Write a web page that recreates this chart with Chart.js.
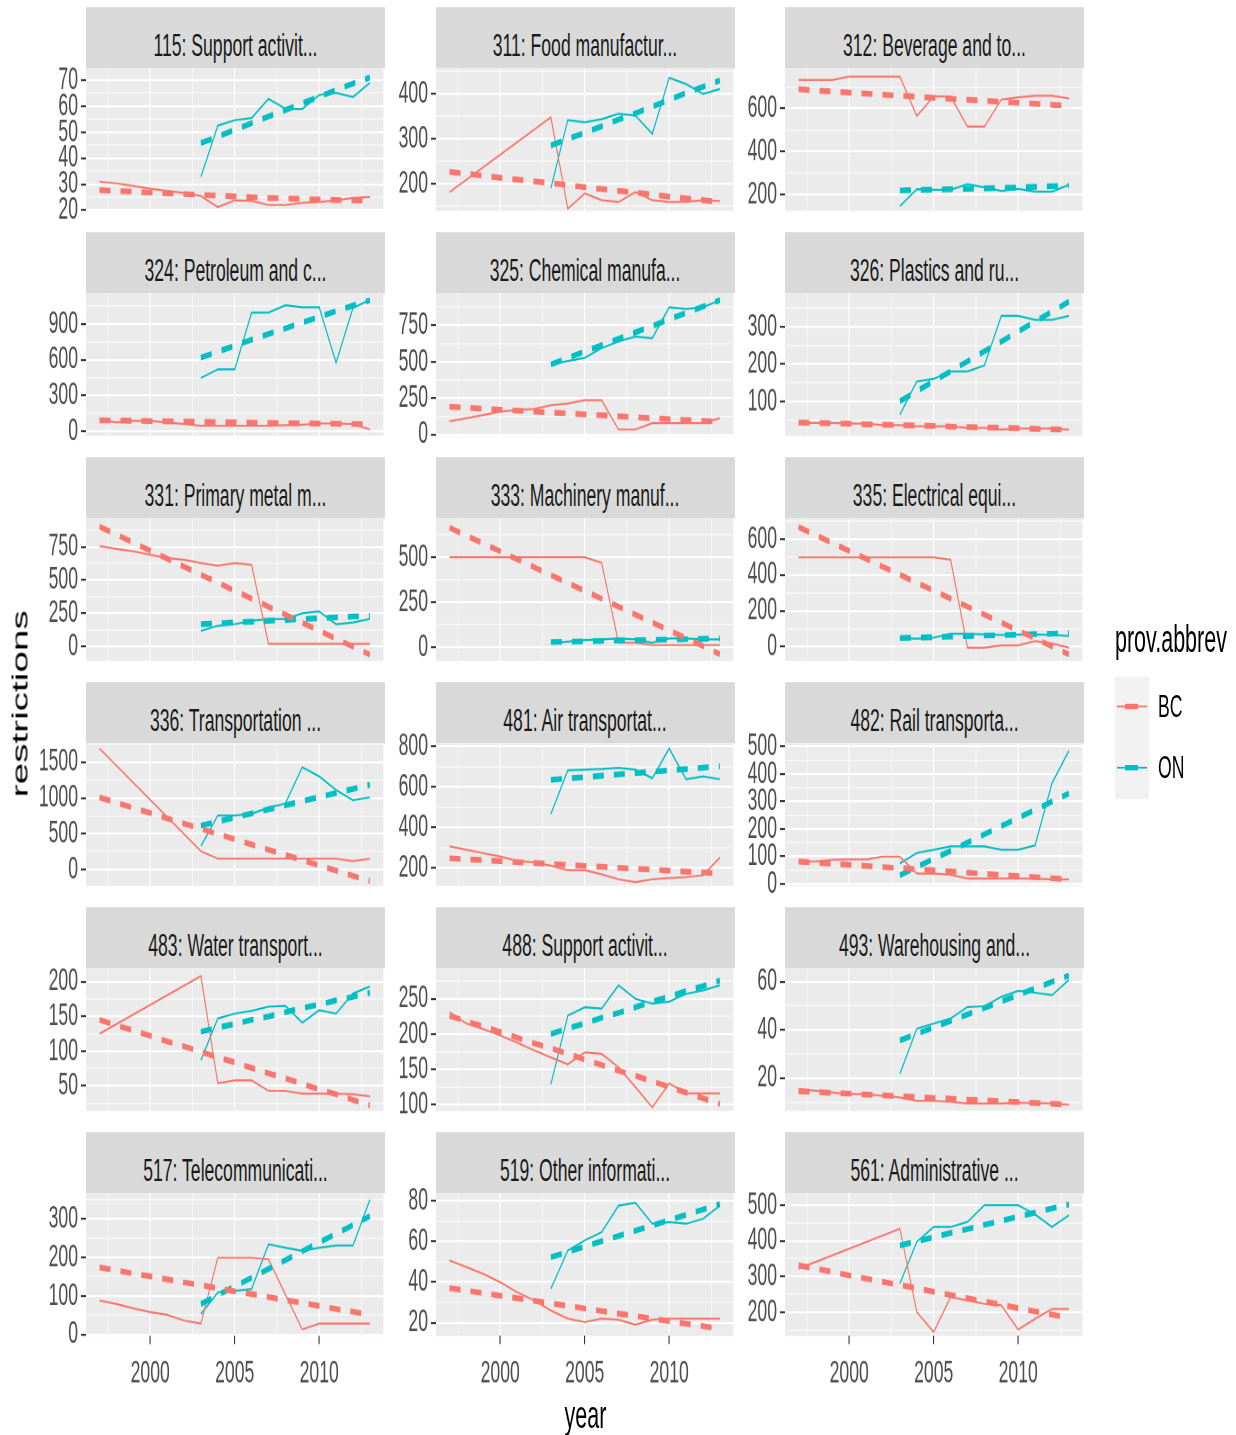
<!DOCTYPE html>
<html>
<head>
<meta charset="utf-8">
<script src="https://cdn.jsdelivr.net/npm/chart.js@4.4.1/dist/chart.umd.min.js"></script>
<style>
  html, body { margin: 0; padding: 0; background: #fff; overflow: hidden; }
  /* the reference is a ggplot stretched vertically, so draw flat and stretch */
  #fig { position: absolute; left: 0; top: 0; width: 1236px; height: 797.2px;
         transform: scaleY(1.8); transform-origin: 0 0;
         font-family: "Liberation Sans", Arial, sans-serif; }
  .strip { position: absolute; background: #D9D9D9; color: #1A1A1A; font-size: 17.6px;
           display: flex; align-items: center; justify-content: center;
           box-sizing: border-box; padding-top: 8.5px; white-space: nowrap; }
  .panel { position: absolute; }
  .txt { position: absolute; white-space: nowrap; color: #000; }
</style>
</head>
<body>
<div id="fig"></div>
<script>
// x values
const years = [1997, 1998, 1999, 2000, 2001, 2002, 2003, 2004, 2005, 2006, 2007, 2008, 2009, 2010, 2011, 2012, 2013];
const onYears = [2003, 2004, 2005, 2006, 2007, 2008, 2009, 2010, 2011, 2012, 2013];
const xTickVals = [1997.5, 2000, 2002.5, 2005, 2007.5, 2010, 2012.5];

const titles = ['115: Support activit...', '311: Food manufactur...', '312: Beverage and to...',
  '324: Petroleum and c...', '325: Chemical manufa...', '326: Plastics and ru...',
  '331: Primary metal m...', '333: Machinery manuf...', '335: Electrical equi...',
  '336: Transportation ...', '481: Air transportat...', '482: Rail transporta...',
  '483: Water transport...', '488: Support activit...', '493: Warehousing and...',
  '517: Telecommunicati...', '519: Other informati...', '561: Administrative ...'];

// y axis range and major tick step for each panel
const yMin = [19.7, 139, 125, -40, -10, 7, -112, -75, -80, -225, 110, -8, 14, 91, 6.3, -4, 13.5, 133];
const yMax = [74.5, 457, 786, 1157, 968, 389, 965, 715, 715, 1760, 815, 511, 219, 293, 65.5, 366, 83.5, 533];
const yStep = [10, 100, 200, 300, 250, 100, 250, 250, 200, 500, 200, 100, 50, 50, 20, 100, 20, 100];

// BC observed / fitted (1997-2013), ON observed / fitted (2003-2013)
const bc115 = [31, 30.3, 29.3, 28.3, 27.4, 26.6, 25.4, 21.2, 23.8, 23.6, 22, 22, 22.8, 23.2, 23.8, 24.7, 25.1];
const bcFit115 = [27.7, 27.4, 27.1, 26.8, 26.5, 26.2, 25.9, 25.6, 25.3, 25, 24.7, 24.5, 24.3, 24.1, 23.9, 23.8, 23.7];
const on115 = [32.8, 52.5, 54.6, 55.4, 62.8, 59, 58.9, 64.3, 65.1, 63.5, 69];
const onFit115 = [45.8, 48.3, 50.9, 53.4, 56, 58.5, 61.1, 63.6, 66.2, 68.7, 71];

const bc311 = [181, null, null, null, null, null, 348, 144, 178, 163, 159, 181, 163, 159, 159, 163, 161];
const bcFit311 = [226, 222, 218, 213, 209, 205, 201, 197, 192, 188, 184, 180, 176, 171, 167, 163, 159];
const on311 = [190, 342, 337, 344, 356, 352, 311, 436, 422, 400, 411];
const onFit311 = [285, 300, 313, 328, 343, 357, 372, 387, 402, 416, 430];

const bc312 = [732, 732, 732, 748, 748, 748, 748, 565, 656, 656, 516, 516, 641, 652, 659, 659, 647];
const bcFit312 = [690, 684, 679, 674, 669, 664, 660, 655, 650, 645, 641, 636, 631, 627, 622, 617, 613];
const on312 = [147, 226, 223, 223, 249, 235, 218, 227, 215, 215, 246];
const onFit312 = [220, 222, 224, 226, 228, 230, 232, 234, 237, 240, 243];

const bc324 = [100, 73, 87, 87, 73, 60, 46, 46, 46, 46, 46, 51, 54, 65, 65, 60, 14];
const bcFit324 = [92, 90, 88, 85, 83, 81, 79, 77, 74, 72, 70, 68, 66, 64, 62, 60, 58];
const on324 = [447, 520, 520, 995, 995, 1057, 1041, 1041, 575, 1035, 1103];
const onFit324 = [618, 668, 718, 768, 816, 864, 912, 960, 1008, 1055, 1100];

const bc325 = [90, 112, 134, 157, 168, 175, 201, 213, 235, 235, 34, 34, 78, 78, 78, 78, 112];
const bcFit325 = [190, 184, 177, 171, 164, 158, 151, 145, 138, 132, 125, 119, 112, 106, 99, 93, 88];
const on325 = [481, 504, 526, 593, 638, 672, 660, 873, 862, 873, 922];
const onFit325 = [481, 525, 569, 613, 657, 701, 745, 790, 834, 878, 922];

const bc326 = [42, 42, 42, 40, 40, 36, 36, 33, 33, 33, 29, 29, 24, 27, 27, 27, 24];
const bcFit326 = [43, 42, 41, 40, 38, 37, 36, 35, 34, 32, 31, 30, 29, 28, 26, 25, 24];
const on326 = [64, 153, 160, 180, 180, 196, 329, 329, 318, 318, 329];
const onFit326 = [100, 127, 154, 180, 207, 234, 260, 287, 314, 340, 367];

const bc331 = [755, 735, 717, 691, 665, 653, 627, 607, 627, 614, 18, 18, 18, 18, 18, 18, 18];
const bcFit331 = [903, 843, 782, 722, 661, 601, 540, 480, 419, 359, 298, 238, 177, 117, 56, -4, -64];
const on331 = [115, 154, 166, 192, 205, 205, 248, 263, 166, 179, 205];
const onFit331 = [166, 172, 179, 185, 192, 198, 205, 211, 218, 224, 230];

const bc333 = [500, 500, 500, 500, 500, 500, 500, 500, 500, 470, 26, 26, 13, 13, 13, 13, 13];
const bcFit333 = [664, 620, 576, 533, 489, 445, 401, 357, 314, 270, 226, 182, 138, 95, 51, 7, -37];
const on333 = [22, 32, 41, 45, 50, 45, 26, 50, 50, 45, 45];
const onFit333 = [30, 32, 34, 36, 38, 40, 42, 44, 46, 48, 50];

const bc335 = [498, 498, 498, 498, 498, 498, 498, 498, 498, 485, -6, -6, 7, 7, 31, 18, -6];
const bcFit335 = [667, 623, 578, 534, 490, 445, 401, 356, 312, 268, 223, 179, 134, 90, 46, 1, -43];
const on335 = [48, 44, 50, 72, 72, 68, 65, 67, 68, 65, 59];
const onFit335 = [48, 51, 53, 56, 59, 62, 64, 67, 70, 72, 75];

const bc336 = [1690, null, null, null, null, null, 260, 156, 156, 156, 156, 156, 156, 156, 156, 120, 156];
const bcFit336 = [1008, 935, 862, 790, 717, 644, 571, 499, 426, 353, 280, 208, 135, 62, -11, -84, -156];
const on336 = [331, 757, 757, 781, 866, 923, 1429, 1301, 1112, 970, 1008];
const onFit336 = [615, 672, 729, 785, 842, 899, 956, 1013, 1070, 1126, 1183];

const bc481 = [306, 289, 272, 256, 234, 227, 210, 188, 188, 168, 143, 129, 143, 149, 154, 163, 251];
const bcFit481 = [247, 242, 238, 233, 228, 224, 219, 214, 209, 205, 200, 195, 191, 186, 181, 177, 172];
const on481 = [466, 682, 685, 689, 694, 685, 643, 790, 638, 652, 638];
const onFit481 = [635, 642, 648, 655, 662, 668, 675, 682, 688, 695, 702];

const bc482 = [81, 81, 87, 89, 89, 99, 99, 37, 37, 33, 19, 19, 19, 19, 19, 16, 16];
const bcFit482 = [81, 77, 73, 69, 65, 61, 57, 53, 49, 45, 41, 36, 32, 28, 24, 20, 16];
const on482 = [74, 112, 124, 136, 136, 136, 124, 124, 140, 366, 484];
const onFit482 = [31, 61, 91, 120, 150, 180, 210, 240, 269, 299, 329];

const bc483 = [125, null, null, null, null, null, 208, 54, 58, 58, 43, 43, 39, 39, 39, 38, 35];
const bcFit483 = [145, 137, 130, 122, 114, 107, 99, 91, 84, 76, 68, 61, 53, 45, 38, 30, 22];
const on483 = [87, 147, 154, 158, 164, 165, 141, 159, 154, 183, 193];
const onFit483 = [128, 134, 139, 145, 150, 156, 162, 167, 173, 178, 184];

const bc488 = [231, 215, 207, 198, 188, 177, 167, 157, 174, 172, 153, 125, 96, 130, 116, 116, 116];
const bcFit488 = [226, 218, 211, 203, 195, 187, 180, 172, 164, 156, 148, 141, 133, 125, 117, 109, 101];
const on488 = [129, 226, 238, 236, 269, 250, 243, 246, 257, 262, 269];
const onFit488 = [200, 208, 215, 223, 230, 238, 246, 253, 261, 268, 276];

const bc493 = [15.4, 14.7, 14, 13.3, 13.3, 12.6, 11.9, 10.5, 10.5, 10.1, 9.4, 9.4, 9.4, 9.7, 9.7, 9.4, 8.9];
const bcFit493 = [14.5, 14.2, 13.8, 13.5, 13.1, 12.8, 12.4, 12.1, 11.7, 11.4, 11, 10.7, 10.3, 10, 9.6, 9.3, 8.9];
const on493 = [21.7, 40.5, 42.6, 44.7, 49.5, 49.8, 53.7, 56.2, 55.4, 54.4, 60.7];
const onFit493 = [35.6, 38.3, 41, 43.7, 46.4, 49.1, 51.8, 54.5, 57.2, 59.9, 62.6];

const bc517 = [88, 79, 68, 58, 51, 36, 28, 199, 199, 199, 195, 104, 13, 28, 28, 28, 28];
const bcFit517 = [174, 166, 158, 151, 143, 135, 128, 120, 112, 105, 97, 89, 82, 74, 66, 59, 51];
const on517 = [53, 109, 113, 118, 234, 225, 217, 225, 231, 231, 350];
const onFit517 = [79, 102, 125, 147, 170, 193, 216, 239, 261, 284, 307];

const bc519 = [50.6, 47.3, 44, 39.9, 35, 31, 26, 22, 20.3, 22, 21.5, 19, 21.5, 22, 22, 22, 22];
const bcFit519 = [37, 35.8, 34.5, 33.3, 32, 30.8, 29.5, 28.3, 27, 25.8, 24.5, 23.3, 22, 20.8, 19.5, 18.3, 17];
const on519 = [36.7, 55.5, 60.4, 64.5, 77.5, 78.9, 68.6, 69.4, 68.6, 71, 77.5];
const onFit519 = [52.2, 54.8, 57.4, 60, 62.6, 65.2, 67.8, 70.4, 73, 75.6, 78.2];

const bc561 = [322, null, null, null, null, null, 434, 200, 144, 242, 233, 223, 219, 151, 181, 209, 209];
const bcFit561 = [331, 322, 313, 303, 294, 285, 276, 267, 257, 248, 239, 230, 221, 211, 202, 193, 184];
const on561 = [280, 397, 439, 439, 453, 500, 500, 500, 474, 439, 472];
const onFit561 = [387, 399, 410, 422, 433, 445, 456, 468, 479, 491, 502];

const bcObs = [bc115, bc311, bc312, bc324, bc325, bc326, bc331, bc333, bc335, bc336, bc481, bc482, bc483, bc488, bc493, bc517, bc519, bc561];
const bcFit = [bcFit115, bcFit311, bcFit312, bcFit324, bcFit325, bcFit326, bcFit331, bcFit333, bcFit335, bcFit336, bcFit481, bcFit482, bcFit483, bcFit488, bcFit493, bcFit517, bcFit519, bcFit561];
const onObs = [on115, on311, on312, on324, on325, on326, on331, on333, on335, on336, on481, on482, on483, on488, on493, on517, on519, on561];
const onFit = [onFit115, onFit311, onFit312, onFit324, onFit325, onFit326, onFit331, onFit333, onFit335, onFit336, onFit481, onFit482, onFit483, onFit488, onFit493, onFit517, onFit519, onFit561];

// colours and layout (unstretched px; the figure is stretched 1.8x vertically)
const BC = '#F8766D', ON = '#00BFC4';
const FONT = '"Liberation Sans", Arial, sans-serif';
const colLeft = [86, 435.5, 785];
const panelW = 299, panelH = 79.2;
const stripTop0 = 3.9, stripH = 34.2, panelTop0 = 38.1, rowStep = 125;
const axisW = 52, padT = 14, padB = 14, xAxisH = 40;

const fig = document.getElementById('fig');

function isMajor(v, step) {
  const r = v / step;
  return Math.abs(r - Math.round(r)) < 1e-6;
}

function yTicks(i) {
  const half = yStep[i] / 2;
  const out = [];
  for (let v = Math.ceil(yMin[i] / half) * half; v <= yMax[i] + 1e-9; v += half) {
    out.push(Math.round(v * 1e6) / 1e6);
  }
  return out;
}

function pts(xs, ys) {
  return xs.map((x, k) => ({ x: x, y: ys[k] }));
}

// grey panel background
const panelBg = {
  id: 'panelBg',
  beforeDraw(chart) {
    const a = chart.chartArea, ctx = chart.ctx;
    ctx.save();
    ctx.fillStyle = '#EBEBEB';
    ctx.fillRect(a.left, a.top, a.right - a.left, a.bottom - a.top);
    ctx.restore();
  }
};

titles.forEach(function(title, i) {
  const row = Math.floor(i / 3), col = i % 3;
  const bottom = row === 5;
  const panelTop = panelTop0 + row * rowStep;

  // facet strip
  const strip = document.createElement('div');
  strip.className = 'strip';
  strip.style.left = colLeft[col] + 'px';
  strip.style.top = (stripTop0 + row * rowStep) + 'px';
  strip.style.width = panelW + 'px';
  strip.style.height = stripH + 'px';
  strip.textContent = title;
  fig.appendChild(strip);

  // chart box
  const box = document.createElement('div');
  box.className = 'panel';
  const h = padT + panelH + (bottom ? xAxisH : padB);
  box.style.left = (colLeft[col] - axisW) + 'px';
  box.style.top = (panelTop - padT) + 'px';
  box.style.width = (axisW + panelW) + 'px';
  box.style.height = h + 'px';
  const canvas = document.createElement('canvas');
  box.appendChild(canvas);
  fig.appendChild(box);

  const solid = { borderWidth: 1.1, pointRadius: 0, fill: false, tension: 0, spanGaps: true, order: 1 };
  const dashed = { borderWidth: 3.2, borderDash: [11, 10], pointRadius: 0, fill: false, tension: 0, spanGaps: true, order: 0 };

  new Chart(canvas, {
    type: 'line',
    data: {
      datasets: [
        Object.assign({ label: 'BC fit', data: pts(years, bcFit[i]), borderColor: BC }, dashed),
        Object.assign({ label: 'ON fit', data: pts(onYears, onFit[i]), borderColor: ON }, dashed),
        Object.assign({ label: 'BC', data: pts(years, bcObs[i]), borderColor: BC }, solid),
        Object.assign({ label: 'ON', data: pts(onYears, onObs[i]), borderColor: ON }, solid)
      ]
    },
    options: {
      responsive: true,
      maintainAspectRatio: false,
      devicePixelRatio: 2,
      animation: false,
      events: [],
      layout: { padding: { top: padT, bottom: bottom ? 0 : padB, left: 0, right: 0 } },
      plugins: { legend: { display: false }, tooltip: { enabled: false } },
      scales: {
        x: {
          type: 'linear',
          min: 1996.2,
          max: 2013.8,
          afterBuildTicks: function(s) { s.ticks = xTickVals.map(v => ({ value: v })); },
          afterFit: function(s) {
            s.height = bottom ? xAxisH : 0;
            s.paddingLeft = 0; s.paddingRight = 0;
          },
          border: { display: false },
          grid: {
            color: '#FFFFFF',
            lineWidth: c => (c.tick && isMajor(c.tick.value, 5)) ? 1.1 : 0.55,
            drawTicks: bottom,
            tickLength: 4.5,
            tickWidth: 1.1,
            tickColor: c => (c.tick && isMajor(c.tick.value, 5)) ? '#333333' : 'rgba(0,0,0,0)'
          },
          ticks: {
            display: bottom,
            autoSkip: false,
            maxRotation: 0,
            padding: 6,
            color: '#4D4D4D',
            font: { family: FONT, size: 17.6 },
            callback: v => isMajor(v, 5) ? String(v) : ''
          }
        },
        y: {
          type: 'linear',
          min: yMin[i],
          max: yMax[i],
          afterBuildTicks: function(s) { s.ticks = yTicks(i).map(v => ({ value: v })); },
          afterFit: function(s) {
            s.width = axisW;
            s.paddingTop = 0; s.paddingBottom = 0;
          },
          border: { display: false },
          grid: {
            color: '#FFFFFF',
            lineWidth: c => (c.tick && isMajor(c.tick.value, yStep[i])) ? 1.1 : 0.55,
            drawTicks: true,
            tickLength: 5,
            tickWidth: 1.1,
            tickColor: c => (c.tick && isMajor(c.tick.value, yStep[i])) ? '#333333' : 'rgba(0,0,0,0)'
          },
          ticks: {
            autoSkip: false,
            padding: 3,
            color: '#4D4D4D',
            font: { family: FONT, size: 17.6 },
            callback: v => isMajor(v, yStep[i]) ? String(v) : ''
          }
        }
      }
    },
    plugins: [panelBg]
  });
});

// axis titles
function addText(str, x, y, size, extra) {
  const d = document.createElement('div');
  d.className = 'txt';
  d.textContent = str;
  d.style.left = x + 'px';
  d.style.top = y + 'px';
  d.style.fontSize = size + 'px';
  d.style.transform = 'translate(-50%, -50%)' + (extra || '');
  fig.appendChild(d);
  return d;
}
addText('year', 585.5, 786.5, 21.5);
addText('restrictions', 20.5, 390.6, 21.5, ' rotate(-90deg)');

// legend
const legTitle = addText('prov.abbrev', 1115, 355.6, 21.5);
legTitle.style.transform = 'translate(0, -50%)';
const keys = [['BC', BC, 392.8], ['ON', ON, 426.7]];
keys.forEach(function(k) {
  const keyBox = document.createElement('div');
  keyBox.style.cssText = 'position:absolute;left:1115px;width:34px;height:34px;background:#F2F2F2;top:' + (k[2] - 17) + 'px';
  const thin = document.createElement('div');
  thin.style.cssText = 'position:absolute;left:2px;width:30px;top:16.45px;height:1.1px;background:' + k[1];
  const thick = document.createElement('div');
  thick.style.cssText = 'position:absolute;left:10px;width:13px;top:15.5px;height:3px;background:' + k[1];
  keyBox.appendChild(thin);
  keyBox.appendChild(thick);
  fig.appendChild(keyBox);
  const lab = addText(k[0], 1158, k[2], 17.6);
  lab.style.transform = 'translate(0, -50%)';
});
</script>
</body>
</html>
